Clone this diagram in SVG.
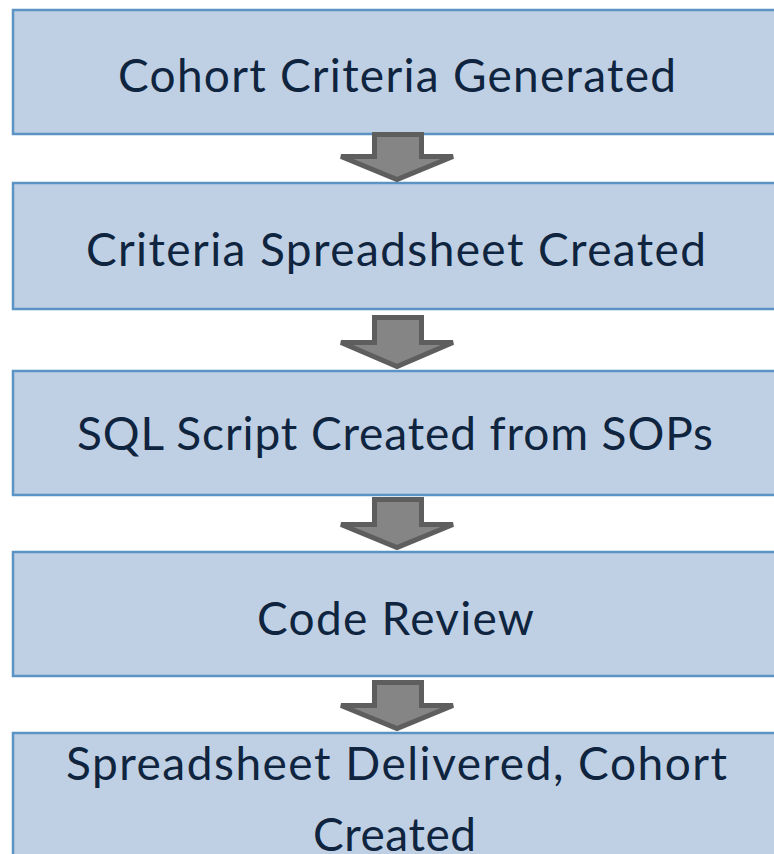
<svg xmlns="http://www.w3.org/2000/svg" width="774" height="854" viewBox="0 0 774 854">
<style>
.box{fill:#BFD0E4;stroke:#5B93C4;stroke-width:2.5}
.lbl{font-family:Lato,"Open Sans","DejaVu Sans",sans-serif;font-size:46px;fill:#0F243E}
.arr{fill:#858585;stroke:#5E5E5E;stroke-width:5;stroke-linejoin:miter}
</style>
<rect width="774" height="854" fill="#FFFFFF"/>
<g id="node1">
<rect class="box" x="13" y="10" width="775" height="124"/>
<text class="lbl" x="118" y="92" textLength="558" lengthAdjust="spacing">Cohort Criteria Generated</text>
</g>
<g id="node2">
<rect class="box" x="13" y="183" width="775" height="126"/>
<text class="lbl" x="86" y="266" textLength="620" lengthAdjust="spacing">Criteria Spreadsheet Created</text>
</g>
<g id="node3">
<rect class="box" x="13" y="371" width="775" height="124"/>
<text class="lbl" x="77" y="450" textLength="636" lengthAdjust="spacing">SQL Script Created from SOPs</text>
</g>
<g id="node4">
<rect class="box" x="13" y="552" width="775" height="124"/>
<text class="lbl" x="257" y="635" textLength="277" lengthAdjust="spacing">Code Review</text>
</g>
<g id="node5">
<rect class="box" x="13" y="733" width="775" height="140"/>
<text class="lbl" x="66" y="780" textLength="661" lengthAdjust="spacing">Spreadsheet Delivered, Cohort</text>
<text class="lbl" x="313" y="851" textLength="163" lengthAdjust="spacing">Created</text>
</g>
<g id="connectors">
<path class="arr" d="M374.5,134.5 H421.5 V156.5 H453 L397,179.5 L341,156.5 H374.5 Z"/>
<path class="arr" d="M374.5,317.5 H421.5 V342.5 H453 L397,366.5 L341,342.5 H374.5 Z"/>
<path class="arr" d="M374.5,499.5 H421.5 V524.5 H453 L397,547.5 L341,524.5 H374.5 Z"/>
<path class="arr" d="M374.5,682.5 H421.5 V705.5 H453 L397,728.5 L341,705.5 H374.5 Z"/>
</g>
</svg>
